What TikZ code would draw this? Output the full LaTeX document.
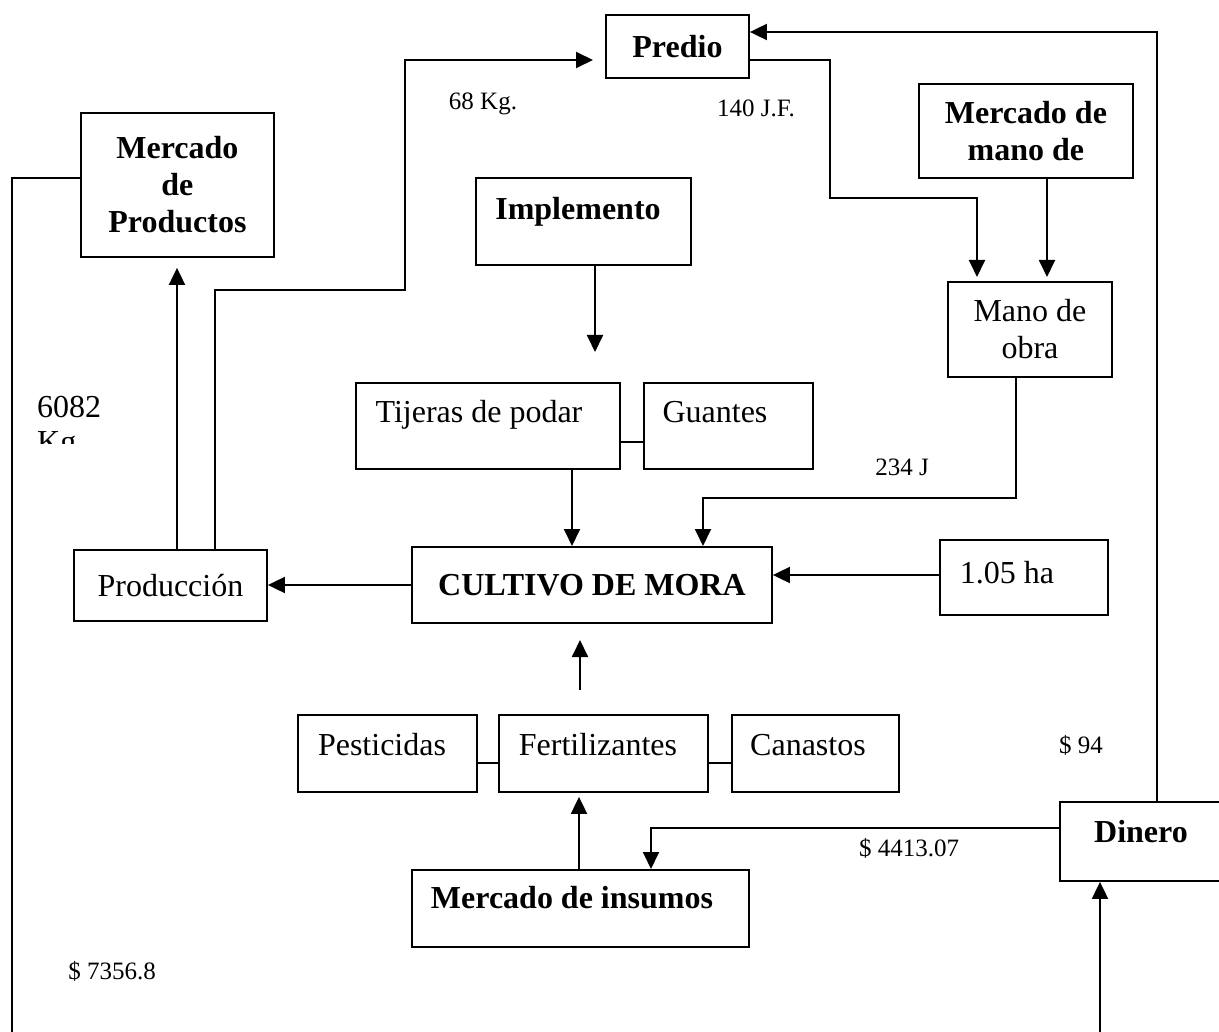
\documentclass[tikz,border=0pt]{standalone}
\usepackage{fontspec}
\setmainfont{Liberation Serif}
\usetikzlibrary{arrows.meta,calc}
\begin{document}
\begin{tikzpicture}[x=1pt,y=-1pt,
  box/.style={draw, line width=1.9pt, inner sep=0pt, anchor=north west},
  multi/.style={font=\fontsize{32}{37}\selectfont, align=center},
  bmulti/.style={font=\fontsize{32}{37}\selectfont\bfseries, align=center},
  txt/.style={inner sep=0pt, text height=24pt, text depth=4pt, font=\fontsize{32}{37}\selectfont},
  btxt/.style={txt, font=\fontsize{32}{37}\selectfont\bfseries},
  lbl/.style={inner sep=0pt, text height=18pt, text depth=1pt, font=\fontsize{25}{29}\selectfont},
  flow/.style={line width=1.9pt},
  arr/.style={flow, -{Triangle[length=17pt,width=16pt]}},
]
\useasboundingbox (0,0) rectangle (1219,1032);
\clip (0,0) rectangle (1219,1032);

% boxes
\node[box, bmulti, minimum width=143pt, minimum height=63pt] (predio) at (605,14) {Predio};
\node[box, bmulti, minimum width=193pt, minimum height=144pt] (mdp) at (80,112) {Mercado\\de\\Productos};
\node[box, bmulti, minimum width=214pt, minimum height=94pt] (mmo) at (918,83) {Mercado de\\mano de};
\node[box, minimum width=215pt, minimum height=87pt] (impl) at (475,177) {};
\node[box, multi, minimum width=164pt, minimum height=95pt] (mano) at (947,281) {Mano de\\obra};
\node[box, minimum width=264pt, minimum height=86pt] (tij) at (355,382) {};
\node[box, minimum width=169pt, minimum height=86pt] (guan) at (643,382) {};
\node[box, multi, minimum width=193pt, minimum height=71pt] (prod) at (73,549) {Producción};
\node[box, bmulti, minimum width=360pt, minimum height=76pt] (cult) at (411,546) {CULTIVO DE MORA};
\node[box, minimum width=168pt, minimum height=75pt] (ha) at (939,539) {};
\node[box, minimum width=179pt, minimum height=77pt] (pest) at (297,714) {};
\node[box, minimum width=209pt, minimum height=77pt] (fert) at (498,714) {};
\node[box, minimum width=167pt, minimum height=77pt] (can) at (731,714) {};
\node[box, minimum width=337pt, minimum height=77pt] (ins) at (411,869) {};
\node[box, minimum width=194pt, minimum height=79pt] (din) at (1059,801) {};

% box texts set off the centre
\node[btxt] (impl-t) at (578,210) {Implemento};
\node[txt] (tij-t) at (479,413) {Tijeras de podar};
\node[txt] (guan-t) at (715,413) {Guantes};
\node[txt] (ha-t) at (1007,573) {1.05 ha};
\node[txt] (pest-t) at (382,745) {Pesticidas};
\node[txt] (fert-t) at (598,745) {Fertilizantes};
\node[txt] (can-t) at (808,745) {Canastos};
\node[btxt] (ins-t) at (572,898) {Mercado de insumos};
\node[btxt] (din-t) at (1141,832) {Dinero};

% quantities
\node[lbl] (q68) at (483,101) {68 Kg.};
\node[lbl] (q140) at (756,108) {140 J.F.};
\node[lbl] (q234) at (902,467) {234 J};
\node[lbl] (q94) at (1081,745) {\$ 94};
\node[lbl] (q4413) at (909,848) {\$ 4413.07};
\node[lbl] (q7356) at (112,971) {\$ 7356.8};
\begin{scope}
  \clip (0,380) rectangle (170,443);
  \node[inner sep=0pt, anchor=north west, align=left, font=\fontsize{32}{35}\selectfont] (q6082) at (37,396) {6082\\Kg};
\end{scope}

% free ends
\coordinate (predin) at ($(predio.north west)+(-12,46)$);
\coordinate (implend) at (595,352);
\coordinate (fa) at (580,690);
\coordinate (fb) at (580,640);
\coordinate (lowL) at (12,1040);
\coordinate (lowR) at (1100,1040);

% connectors
\draw[arr] (din.north) |- ($(predio.north east)+(0,18)$);
\draw[arr] ($(predio.north east)+(0,46)$) -- ++(80,0) -- ++(0,138) -| ($(mano.north west)+(30,-4)$);
\draw[arr] ($(mmo.south west)+(129,0)$) -- ($(mano.north west)+(100,-4)$);
\draw[arr] ($(mano.south west)+(69,0)$) -- ++(0,120) -| ($(cult.north west)+(292,0)$);
\draw[arr] (impl.south -| implend) -- (implend);
\draw[arr] ($(tij.south west)+(217,0)$) -- ($(cult.north west)+(161,0)$);
\draw[flow] ($(tij.south east)+(0,-28)$) -- ($(guan.south west)+(0,-28)$);
\draw[arr] ($(ha.north west)+(0,36)$) -- ($(cult.north east)+(0,29)$);
\draw[arr] ($(cult.north west)+(0,39)$) -- ($(prod.north east)+(0,36)$);
\draw[arr] ($(prod.north west)+(104,0)$) -- ($(mdp.south west)+(97,10)$);
\draw[arr] ($(prod.north west)+(142,0)$) -- ++(0,-259) -- ++(190,0) |- (predin);
\draw[flow] ($(mdp.north west)+(0,66)$) -| (lowL);
\draw[arr] (fa) -- (fb);
\draw[flow] ($(pest.south east)+(0,-30)$) -- ($(fert.south west)+(0,-30)$);
\draw[flow] ($(fert.south east)+(0,-30)$) -- ($(can.south west)+(0,-30)$);
\draw[arr] ($(ins.north west)+(168,0)$) -- ($(fert.south west)+(81,4)$);
\draw[arr] ($(din.north west)+(0,27)$) -| ($(ins.north west)+(240,0)$);
\draw[arr] (lowR) -- (lowR |- din.south);
\end{tikzpicture}
\end{document}
